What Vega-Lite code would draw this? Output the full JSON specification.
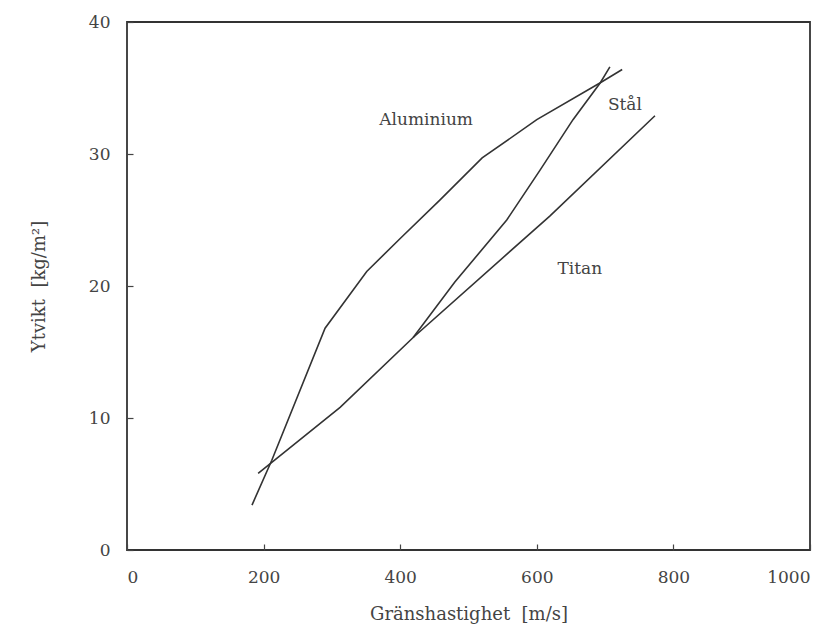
{
  "$schema": "https://vega.github.io/schema/vega-lite/v6.json",
  "width": 683,
  "height": 528,
  "autosize": "none",
  "padding": {"left": 127, "top": 22, "right": 28, "bottom": 80},
  "background": "white",
  "config": {
    "view": {"stroke": "#333", "strokeWidth": 1.8},
    "font": "DejaVu Serif",
    "axis": {
      "grid": false,
      "domain": false,
      "ticks": true,
      "tickColor": "#444",
      "tickWidth": 1.2,
      "tickSize": 6,
      "offset": -6,
      "labelFont": "DejaVu Serif",
      "titleFont": "DejaVu Serif",
      "labelFontSize": 17,
      "titleFontSize": 18,
      "labelColor": "#444",
      "titleColor": "#444",
      "titleFontWeight": "normal"
    }
  },
  "datasets": {
    "curves": [
      {"material": "Aluminium", "v": 183, "w": 3.4},
      {"material": "Aluminium", "v": 212, "w": 6.8},
      {"material": "Aluminium", "v": 290, "w": 16.8},
      {"material": "Aluminium", "v": 351, "w": 21.1},
      {"material": "Aluminium", "v": 400, "w": 23.6},
      {"material": "Aluminium", "v": 458, "w": 26.5},
      {"material": "Aluminium", "v": 520, "w": 29.7},
      {"material": "Aluminium", "v": 600, "w": 32.6},
      {"material": "Aluminium", "v": 693, "w": 35.4},
      {"material": "Aluminium", "v": 725, "w": 36.4},
      {"material": "Titan", "v": 192, "w": 5.8},
      {"material": "Titan", "v": 312, "w": 10.8},
      {"material": "Titan", "v": 419, "w": 16.1},
      {"material": "Titan", "v": 619, "w": 25.3},
      {"material": "Titan", "v": 773, "w": 32.9},
      {"material": "Stål", "v": 419, "w": 16.1},
      {"material": "Stål", "v": 480, "w": 20.3},
      {"material": "Stål", "v": 556, "w": 25.0},
      {"material": "Stål", "v": 605, "w": 28.8},
      {"material": "Stål", "v": 653, "w": 32.6},
      {"material": "Stål", "v": 693, "w": 35.4},
      {"material": "Stål", "v": 707, "w": 36.6}
    ],
    "labels": [
      {"text": "Aluminium", "v": 438, "w": 32.6},
      {"text": "Stål", "v": 729, "w": 33.7},
      {"text": "Titan", "v": 663, "w": 21.3}
    ]
  },
  "layer": [
    {
      "data": {"name": "curves"},
      "mark": {"type": "line", "color": "#333", "strokeWidth": 1.6},
      "encoding": {
        "x": {
          "field": "v", "type": "quantitative",
          "scale": {"domain": [0, 1000], "nice": false},
          "axis": {"values": [0, 200, 400, 600, 800, 1000], "format": "d", "title": "Gränshastighet \u00a0[m/s]", "labelPadding": 19, "titlePadding": 20}
        },
        "y": {
          "field": "w", "type": "quantitative",
          "scale": {"domain": [0, 40], "nice": false},
          "axis": {"values": [0, 10, 20, 30, 40], "title": "Ytvikt \u00a0[kg/m²]", "labelPadding": 17, "titlePadding": 40}
        },
        "detail": {"field": "material"},
        "order": {"field": "v"}
      }
    },
    {
      "data": {"name": "labels"},
      "mark": {"type": "text", "font": "DejaVu Serif", "fontSize": 17, "color": "#444"},
      "encoding": {
        "x": {"field": "v", "type": "quantitative"},
        "y": {"field": "w", "type": "quantitative"},
        "text": {"field": "text"}
      }
    }
  ]
}
